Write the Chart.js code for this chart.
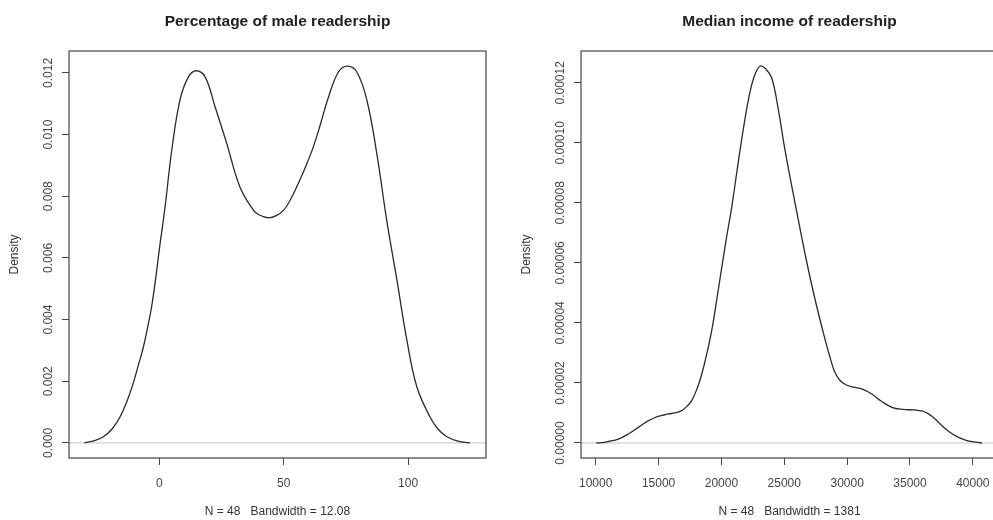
<!DOCTYPE html>
<html>
<head>
<meta charset="utf-8">
<script src="https://cdn.jsdelivr.net/npm/chart.js@4"></script>
<style>
  html, body { margin: 0; padding: 0; background: #fff; overflow: hidden; }
  #wrap { position: relative; width: 993px; height: 520px; overflow: hidden; }
  canvas { position: absolute; top: 0; }
  #male { left: 0; }
  #income { left: 512px; }
</style>
</head>
<body>
<div id="wrap">
  <canvas id="male" width="512" height="520"></canvas>
  <canvas id="income" width="520" height="520"></canvas>
</div>
<script>
// density of percentage of male readership
const maleX = [-30.1, -26, -22.5, -19, -15.8, -13, -10.5, -8.5, -6.4, -4.7, -3.1, -1.5, 0, 2.3, 5.0, 8.3, 11.7, 14.8, 18.4, 22.4, 27.1, 32.4, 37.8, 40, 43.9, 47, 50, 52.5, 55.2, 58.5, 61.9, 65, 68.0, 72.0, 75.6, 79.4, 83.4, 87.4, 91.4, 95.5, 99.5, 103.5, 108.8, 112, 115.6, 120, 124.8];
const maleY = [0.00000, 0.00007, 0.00020, 0.00045, 0.00084, 0.00135, 0.00193, 0.00250, 0.00311, 0.00375, 0.00441, 0.00531, 0.00627, 0.00765, 0.00949, 0.01112, 0.01187, 0.01207, 0.01187, 0.01090, 0.00971, 0.00830, 0.00755, 0.00740, 0.00730, 0.00737, 0.00755, 0.00786, 0.00830, 0.00890, 0.00960, 0.01040, 0.01122, 0.01203, 0.01222, 0.01203, 0.01112, 0.00939, 0.00722, 0.00528, 0.00333, 0.00182, 0.00084, 0.00045, 0.00020, 0.00006, 0.00000];

// density of median income of readership
const incomeX = [10056, 10477, 11000, 11800, 12600, 13390, 14100, 14720, 15300, 15780, 16300, 16840, 17250, 17640, 18050, 18440, 18850, 19230, 19630, 20030, 20420, 20820, 21480, 22140, 22600, 23080, 23550, 24010, 24530, 25060, 25900, 26760, 27450, 28180, 28620, 29000, 29400, 29900, 30500, 31170, 31960, 32700, 33560, 34400, 35410, 36000, 36470, 37000, 37530, 38200, 38860, 39600, 40450, 40709];
const incomeY = [0, 0.0000001, 0.0000005, 0.0000013, 0.0000030, 0.0000052, 0.0000072, 0.0000085, 0.0000092, 0.0000097, 0.0000100, 0.0000108, 0.0000122, 0.0000141, 0.0000180, 0.0000230, 0.0000300, 0.0000375, 0.0000478, 0.0000586, 0.0000688, 0.0000786, 0.0000975, 0.0001142, 0.0001220, 0.0001256, 0.0001245, 0.0001215, 0.0001110, 0.0000975, 0.0000790, 0.0000608, 0.0000478, 0.0000355, 0.0000288, 0.0000238, 0.0000210, 0.0000194, 0.0000186, 0.0000180, 0.0000163, 0.0000140, 0.0000119, 0.0000112, 0.0000110, 0.0000106, 0.0000097, 0.0000080, 0.0000058, 0.0000035, 0.0000019, 0.0000007, 0.0000002, 0];

// ticks
const maleXTicks = [0, 50, 100];
const maleXLabels = ['0', '50', '100'];
const maleYTicks = [0, 0.002, 0.004, 0.006, 0.008, 0.010, 0.012];
const maleYLabels = ['0.000', '0.002', '0.004', '0.006', '0.008', '0.010', '0.012'];
const incomeXTicks = [10000, 15000, 20000, 25000, 30000, 35000, 40000];
const incomeXLabels = ['10000', '15000', '20000', '25000', '30000', '35000', '40000'];
const incomeYTicks = [0, 0.00002, 0.00004, 0.00006, 0.00008, 0.00010, 0.00012];
const incomeYLabels = ['0.00000', '0.00002', '0.00004', '0.00006', '0.00008', '0.00010', '0.00012'];

Chart.defaults.font.family = "'Liberation Sans', Arial, sans-serif";
Chart.defaults.color = '#444';

// box round the plot region, like R
const boxPlugin = {
  id: 'box',
  afterDatasetsDraw(chart) {
    const a = chart.chartArea;
    const ctx = chart.ctx;
    ctx.save();
    ctx.strokeStyle = '#444';
    ctx.lineWidth = 1.2;
    ctx.strokeRect(a.left, a.top, a.right - a.left, a.bottom - a.top);
    ctx.restore();
  }
};

function densityChart(id, opts) {
  const curve = opts.xs.map((x, i) => ({x: x, y: opts.ys[i]}));
  return new Chart(document.getElementById(id), {
    type: 'line',
    data: {
      datasets: [{
        data: curve,
        borderColor: '#2a2a2a',
        borderWidth: 1.3,
        pointRadius: 0,
        tension: 0.4,
        fill: false
      }, {
        // zero line
        data: [{x: opts.xMin, y: 0}, {x: opts.xMax, y: 0}],
        borderColor: '#c4c4c4',
        borderWidth: 1,
        pointRadius: 0
      }]
    },
    options: {
      responsive: false,
      animation: false,
      layout: { padding: { left: 0, right: opts.padRight, top: 0, bottom: 0 } },
      plugins: {
        legend: { display: false },
        tooltip: { enabled: false },
        title: {
          display: true,
          text: opts.title,
          fullSize: false,
          color: '#222',
          font: { size: 15.5, weight: 'bold' },
          padding: { top: 12, bottom: 20.4 }
        }
      },
      scales: {
        x: {
          type: 'linear',
          min: opts.xMin,
          max: opts.xMax,
          afterBuildTicks: s => { s.ticks = opts.xTicks.map(v => ({value: v})); },
          afterFit: s => { s.height = 62; },
          border: { display: false },
          grid: { drawOnChartArea: false, tickLength: 7, color: '#444', tickWidth: 1 },
          ticks: {
            padding: 11,
            maxRotation: 0,
            autoSkip: false,
            font: { size: 12 },
            callback: (v, i) => opts.xLabels[i]
          },
          title: {
            display: true,
            text: opts.sub,
            color: '#333',
            font: { size: 12 },
            padding: { top: 0, bottom: 1 }
          }
        },
        y: {
          type: 'linear',
          min: opts.yMin,
          max: opts.yMax,
          afterBuildTicks: s => { s.ticks = opts.yTicks.map(v => ({value: v})); },
          afterFit: s => { s.width = 69; },
          border: { display: false },
          grid: { drawOnChartArea: false, tickLength: 7, color: '#444', tickWidth: 1 },
          ticks: {
            minRotation: 90,
            maxRotation: 90,
            crossAlign: 'center',
            padding: opts.yPad,
            autoSkip: false,
            font: { size: 12 },
            callback: (v, i) => opts.yLabels[i]
          },
          title: {
            display: true,
            text: 'Density',
            color: '#333',
            font: { size: 12 },
            padding: { top: 7.8, bottom: 0 }
          }
        }
      }
    },
    plugins: [boxPlugin]
  });
}

densityChart('male', {
  xs: maleX, ys: maleY,
  xMin: -36.3, xMax: 131.3, yMin: -0.00049, yMax: 0.01271,
  xTicks: maleXTicks, xLabels: maleXLabels,
  yTicks: maleYTicks, yLabels: maleYLabels,
  title: 'Percentage of male readership',
  sub: 'N = 48   Bandwidth = 12.08',
  padRight: 26, yPad: -1.5
});

densityChart('income', {
  xs: incomeX, ys: incomeY,
  xMin: 8830, xMax: 42000, yMin: -0.000005, yMax: 0.0001306,
  xTicks: incomeXTicks, xLabels: incomeXLabels,
  yTicks: incomeYTicks, yLabels: incomeYLabels,
  title: 'Median income of readership',
  sub: 'N = 48   Bandwidth = 1381',
  padRight: 34, yPad: -8.2
});
</script>
</body>
</html>
